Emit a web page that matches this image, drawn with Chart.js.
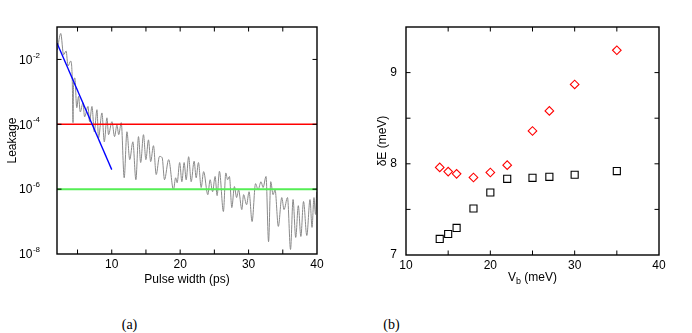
<!DOCTYPE html>
<html><head><meta charset="utf-8">
<script src="https://cdn.jsdelivr.net/npm/chart.js@4.4.0/dist/chart.umd.min.js"></script>
<style>
html,body{margin:0;padding:0;background:#fff;width:692px;height:333px;overflow:hidden;position:relative}
#wa{position:absolute;left:0;top:0;width:340px;height:300px}
#wb{position:absolute;left:340px;top:0;width:352px;height:300px}
.cap{position:absolute;top:317px;font:14px "Liberation Serif","DejaVu Serif",serif;color:#000;transform:translateX(-50%);line-height:16px}
</style></head><body>
<div id="wa"><canvas id="ca" width="340" height="300"></canvas></div>
<div id="wb"><canvas id="cb" width="352" height="300"></canvas></div>
<div class="cap" style="left:129.5px">(a)</div>
<div class="cap" style="left:391.5px">(b)</div>
<script>
// ---------- Panel (a): leakage vs pulse width ----------
const pulseWidthPs = [2.04, 2.55, 2.96, 3.33, 3.61, 4.01, 4.23, 4.34, 4.42, 4.60,
  4.89, 5.15, 5.40, 5.80, 6.03, 6.53, 6.76, 7.11, 7.45, 7.84,
  8.07, 8.57, 8.91, 9.30, 9.53, 10.03, 10.41, 10.76, 11.02, 11.39,
  11.82, 12.22, 12.63, 13.09, 13.53, 13.91, 14.23, 14.64, 14.99, 15.37,
  15.69, 16.10, 16.50, 16.98, 17.37, 17.71, 18.32, 19.02, 19.34, 19.56,
  19.93, 20.25, 20.58, 20.88, 21.24, 21.61, 22.04, 22.34, 22.67, 23.07,
  23.43, 24.04, 24.38, 24.74, 25.11, 25.40, 25.74, 26.32, 26.67, 26.93,
  27.20, 27.55, 27.93, 28.25, 28.54, 29.01, 29.27, 29.71, 30.07, 30.51,
  31.02, 31.39, 31.82, 32.12, 32.55, 32.92, 33.24, 33.58, 33.87, 34.35,
  34.85, 35.18, 35.69, 36.13, 36.50, 36.89, 37.27, 37.64, 38.03, 38.51,
  38.98, 39.27, 39.56, 39.78, 39.95];
const leakageLog10 = [-1.71, -1.20, -1.86, -1.74, -2.20, -2.05, -2.63, -3.95, -2.78, -2.57,
  -3.49, -3.14, -3.62, -3.34, -3.77, -3.45, -3.92, -3.45, -4.23, -3.55,
  -4.42, -3.65, -4.54, -3.80, -4.32, -3.92, -4.38, -4.02, -4.32, -3.95,
  -5.65, -4.23, -5.09, -4.54, -5.71, -4.38, -5.18, -4.32, -5.09, -4.48,
  -5.15, -4.66, -5.55, -4.99, -5.03, -5.71, -5.09, -6.02, -5.65, -5.80,
  -5.18, -5.77, -5.18, -5.71, -5.00, -5.77, -5.14, -5.65, -5.18, -5.95,
  -5.46, -6.17, -5.71, -6.08, -5.61, -6.20, -5.45, -6.69, -5.50, -5.71,
  -5.61, -6.57, -5.92, -6.26, -6.02, -6.63, -6.17, -6.48, -6.08, -7.00,
  -5.83, -6.02, -5.77, -5.95, -5.61, -7.62, -5.77, -6.17, -6.02, -7.15,
  -6.26, -6.63, -6.26, -7.86, -6.32, -7.49, -6.51, -7.46, -6.38, -7.43,
  -6.32, -7.18, -6.26, -6.78, -6.08];
const blueFitPs = [2, 10];
const blueFitLeakage = [3.2e-2, 4.0e-6];
const redLevelPs = [2, 40];
const redLevel = [1e-4, 1e-4];
const greenLevelPs = [2, 40];
const greenLevel = [1e-6, 1e-6];
const pulseTickValues = [5, 10, 15, 20, 25, 30, 35, 40];
const leakTickValues = [1e-8, 1e-6, 1e-4, 1e-2];
const leakTickExponents = ['-8', '-6', '-4', '-2'];

// ---------- Panel (b): deltaE vs Vb ----------
const vbMeV = [14, 15, 16, 18, 20, 22, 25, 27, 30, 35];
const deltaERed = [7.96, 7.915, 7.89, 7.85, 7.905, 7.985, 8.36, 8.58, 8.87, 9.245];
const deltaEBlack = [7.176, 7.23, 7.297, 7.51, 7.685, 7.835, 7.846, 7.857, 7.88, 7.92];
const vbTickValues = [10, 15, 20, 25, 30, 35, 40];
const deTickValues = [7, 7.5, 8, 8.5, 9];

const FONT = '"Liberation Sans", Arial, Helvetica, sans-serif';
const tickFont = {family: FONT, size: 12};
Chart.defaults.color = '#000';
Chart.defaults.font.family = FONT;

const framePlugin = {
  id: 'frame',
  afterDatasetsDraw(chart) {
    const {ctx, chartArea: a, scales} = chart;
    const L = 4.5;
    ctx.save();
    ctx.strokeStyle = '#000';
    ctx.lineWidth = 1;
    ctx.beginPath();
    scales.x.ticks.forEach(t => {
      const p = scales.x.getPixelForValue(t.value);
      if (p <= a.left + 1 || p >= a.right - 1) return;
      ctx.moveTo(p, a.bottom); ctx.lineTo(p, a.bottom - L);
      ctx.moveTo(p, a.top); ctx.lineTo(p, a.top + L);
    });
    scales.y.ticks.forEach(t => {
      const p = scales.y.getPixelForValue(t.value);
      if (p <= a.top + 1 || p >= a.bottom - 1) return;
      ctx.moveTo(a.left, p); ctx.lineTo(a.left + L, p);
      ctx.moveTo(a.right, p); ctx.lineTo(a.right - L, p);
    });
    ctx.stroke();
    ctx.lineWidth = 1.4;
    ctx.strokeRect(a.left, a.top, a.right - a.left, a.bottom - a.top);
    ctx.restore();
  }
};

// draws the 10^n labels of the log axis with a raised, smaller exponent
const powerLabelPlugin = {
  id: 'powerLabels',
  afterDraw(chart) {
    const {ctx, chartArea: a, scales} = chart;
    const y = scales.y;
    ctx.save();
    ctx.fillStyle = '#000';
    ctx.textBaseline = 'middle';
    ctx.textAlign = 'left';
    const big = '12px ' + FONT, small = '8px ' + FONT;
    y.ticks.forEach((t, i) => {
      const p = y.getPixelForValue(t.value);
      const exp = leakTickExponents[i];
      ctx.font = big; const wb = ctx.measureText('10').width;
      ctx.font = small; const we = ctx.measureText(exp).width;
      const right = a.left - 17;
      const x0 = right - wb - we - 0.5;
      ctx.font = big; ctx.fillText('10', x0, p + 1);
      ctx.font = small; ctx.fillText(exp, x0 + wb + 0.5, p - 4);
    });
    ctx.restore();
  }
};

const pts = (xs, ys) => xs.map((x, i) => ({x, y: ys[i]}));

new Chart(document.getElementById('ca'), {
  type: 'line',
  data: {datasets: [
    {data: pts(redLevelPs, redLevel), borderColor: '#ff0000', borderWidth: 1.5, pointRadius: 0, order: 1},
    {data: pts(greenLevelPs, greenLevel), borderColor: '#55ee55', borderWidth: 2, pointRadius: 0, order: 2},
    {data: pts(blueFitPs, blueFitLeakage), borderColor: '#0000ff', borderWidth: 1.3, pointRadius: 0, order: 0},
    {data: pts(pulseWidthPs, leakageLog10.map(e => Math.pow(10, e))), borderColor: '#8a8a8a', borderWidth: 1,
     pointRadius: 0, cubicInterpolationMode: 'monotone', order: 5}
  ]},
  options: {
    responsive: false, animation: false, events: [],
    layout: {padding: {left: 0, right: 23, top: 27, bottom: 0}},
    plugins: {legend: {display: false}, tooltip: {enabled: false}},
    scales: {
      x: {type: 'linear', min: 2, max: 40,
        grid: {display: false, drawTicks: false}, border: {display: false},
        afterBuildTicks: s => { s.ticks = pulseTickValues.map(v => ({value: v})); },
        afterFit: s => { s.height = 46; },
        ticks: {padding: 3, font: tickFont, color: '#000', maxRotation: 0, autoSkip: false,
          callback: v => (v % 10 === 0 ? String(v) : '')},
        title: {display: true, text: 'Pulse width (ps)', font: tickFont, color: '#000', padding: {top: 0, bottom: 13}}
      },
      y: {type: 'logarithmic', min: 1e-8, max: 1e-1,
        grid: {display: false, drawTicks: false}, border: {display: false},
        afterBuildTicks: s => { s.ticks = leakTickValues.map(v => ({value: v})); },
        afterFit: s => { s.width = 57; },
        ticks: {display: false},
        title: {display: true, text: 'Leakage', font: tickFont, color: '#000', padding: {top: 5, bottom: 0}}
      }
    }
  },
  plugins: [framePlugin, powerLabelPlugin]
});

const vbTitlePlugin = {
  id: 'vbTitle',
  afterDraw(chart) {
    const {ctx, chartArea: a} = chart;
    ctx.save();
    ctx.fillStyle = '#000';
    ctx.textBaseline = 'middle';
    ctx.textAlign = 'left';
    const big = '12px ' + FONT, small = '9px ' + FONT;
    ctx.font = big;
    const wV = ctx.measureText('V').width, wR = ctx.measureText(' (meV)').width;
    ctx.font = small;
    const wb = ctx.measureText('b').width;
    let x = (a.left + a.right) / 2 - (wV + wb + wR) / 2;
    const y = a.bottom + 23;
    ctx.font = big; ctx.fillText('V', x, y); x += wV;
    ctx.font = small; ctx.fillText('b', x, y + 4); x += wb;
    ctx.font = big; ctx.fillText(' (meV)', x, y);
    ctx.restore();
  }
};

new Chart(document.getElementById('cb'), {
  type: 'scatter',
  data: {datasets: [
    {data: pts(vbMeV, deltaERed), pointStyle: 'rectRot', pointRadius: 4.3, borderColor: '#ff0000',
     backgroundColor: 'rgba(0,0,0,0)', borderWidth: 1.1},
    {data: pts(vbMeV, deltaEBlack), pointStyle: 'rect', pointRadius: 5, borderColor: '#000000',
     backgroundColor: 'rgba(0,0,0,0)', borderWidth: 1.1}
  ]},
  options: {
    responsive: false, animation: false, events: [],
    layout: {padding: {left: 30, right: 33, top: 27, bottom: 0}},
    plugins: {legend: {display: false}, tooltip: {enabled: false}},
    scales: {
      x: {type: 'linear', min: 10, max: 40,
        grid: {display: false, drawTicks: false}, border: {display: false},
        afterBuildTicks: s => { s.ticks = vbTickValues.map(v => ({value: v})); },
        afterFit: s => { s.height = 45; },
        ticks: {padding: 3, font: tickFont, color: '#000', maxRotation: 0, autoSkip: false,
          callback: v => (v % 10 === 0 ? String(v) : '')}
      },
      y: {type: 'linear', min: 7, max: 9.5,
        grid: {display: false, drawTicks: false}, border: {display: false},
        afterBuildTicks: s => { s.ticks = deTickValues.map(v => ({value: v})); },
        afterFit: s => { s.width = 36; },
        ticks: {padding: 9, font: tickFont, color: '#000', autoSkip: false,
          callback: v => (Number.isInteger(v) ? String(v) : '')},
        title: {display: true, text: '\u03B4E (meV)', font: tickFont, color: '#000', padding: {top: 5, bottom: 0}}
      }
    }
  },
  plugins: [framePlugin, vbTitlePlugin]
});
</script>
</body></html>
